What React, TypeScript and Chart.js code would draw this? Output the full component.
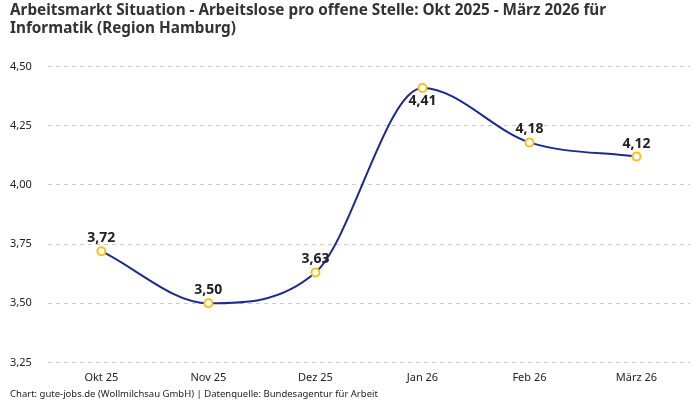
import { useEffect, useRef } from "react";
import { Chart, registerables } from "chart.js";

Chart.register(...registerables);

const months = ["Okt 25", "Nov 25", "Dez 25", "Jan 26", "Feb 26", "März 26"];
const ratio = [3.72, 3.5, 3.63, 4.41, 4.18, 4.12];
// labels sit above the point, except where the curve peaks
const labelBelow = [false, false, false, true, false, false];

const FONT = "'Noto Sans', 'DejaVu Sans', sans-serif";

const fmt = (v: number) => v.toFixed(2).replace(".", ",");

const valueLabels = {
  id: "valueLabels",
  afterDatasetsDraw(chart: Chart) {
    const ctx = chart.ctx;
    const meta = chart.getDatasetMeta(0);
    ctx.save();
    ctx.font = `bold 14px ${FONT}`;
    ctx.fillStyle = "#222";
    ctx.textAlign = "center";
    meta.data.forEach((pt, i) => {
      const { x, y } = pt.getProps(["x", "y"], true);
      if (labelBelow[i]) {
        ctx.textBaseline = "top";
        ctx.fillText(fmt(ratio[i]), x, y + 6);
      } else {
        ctx.textBaseline = "bottom";
        ctx.fillText(fmt(ratio[i]), x, y - 6);
      }
    });
    ctx.restore();
  },
};

export default function App() {
  const canvasRef = useRef<HTMLCanvasElement | null>(null);

  useEffect(() => {
    document.body.style.margin = "0";
    const canvas = canvasRef.current;
    if (!canvas) return;

    const chart = new Chart(canvas, {
      type: "line",
      data: {
        labels: months,
        datasets: [
          {
            label: "Arbeitslose pro offene Stelle",
            data: ratio,
            borderColor: "#1b2a8c",
            borderWidth: 2,
            cubicInterpolationMode: "monotone",
            pointRadius: 4,
            pointBorderWidth: 2,
            pointBackgroundColor: "#ffffff",
            pointBorderColor: "#f5c21b",
          },
        ],
      },
      options: {
        animation: false,
        responsive: true,
        maintainAspectRatio: false,
        layout: { padding: { left: 10, right: 10, top: 0, bottom: 0 } },
        plugins: {
          legend: { display: false },
          tooltip: { enabled: false },
          title: {
            display: true,
            align: "start",
            text: [
              "Arbeitsmarkt Situation - Arbeitslose pro offene Stelle: Okt 2025 - März 2026 für",
              "Informatik (Region Hamburg)",
            ],
            color: "#333",
            font: { family: FONT, size: 15.3, weight: "bold", lineHeight: 1.2 },
            padding: { top: 1, bottom: 29 },
          },
          subtitle: {
            display: true,
            position: "bottom",
            align: "start",
            text: "Chart: gute-jobs.de (Wollmilchsau GmbH) | Datenquelle: Bundesagentur für Arbeit",
            color: "#222",
            font: { family: FONT, size: 9.5 },
            padding: { top: 3, bottom: 0 },
          },
        },
        scales: {
          x: {
            offset: true,
            grid: { display: false },
            border: { display: false },
            ticks: { color: "#222", font: { family: FONT, size: 11 }, padding: 1 },
          },
          y: {
            min: 3.25,
            max: 4.5,
            border: { display: false, dash: [4, 4] },
            grid: { color: "#cccccc", drawTicks: false },
            ticks: {
              stepSize: 0.25,
              color: "#222",
              padding: 8,
              crossAlign: "far",
              font: { family: FONT, size: 11 },
              callback: (v) => fmt(Number(v)),
            },
          },
        },
      },
      plugins: [valueLabels],
    });

    return () => {
      chart.destroy();
    };
  }, []);

  return (
    <div style={{ width: 700, height: 400 }}>
      <canvas ref={canvasRef} />
    </div>
  );
}
